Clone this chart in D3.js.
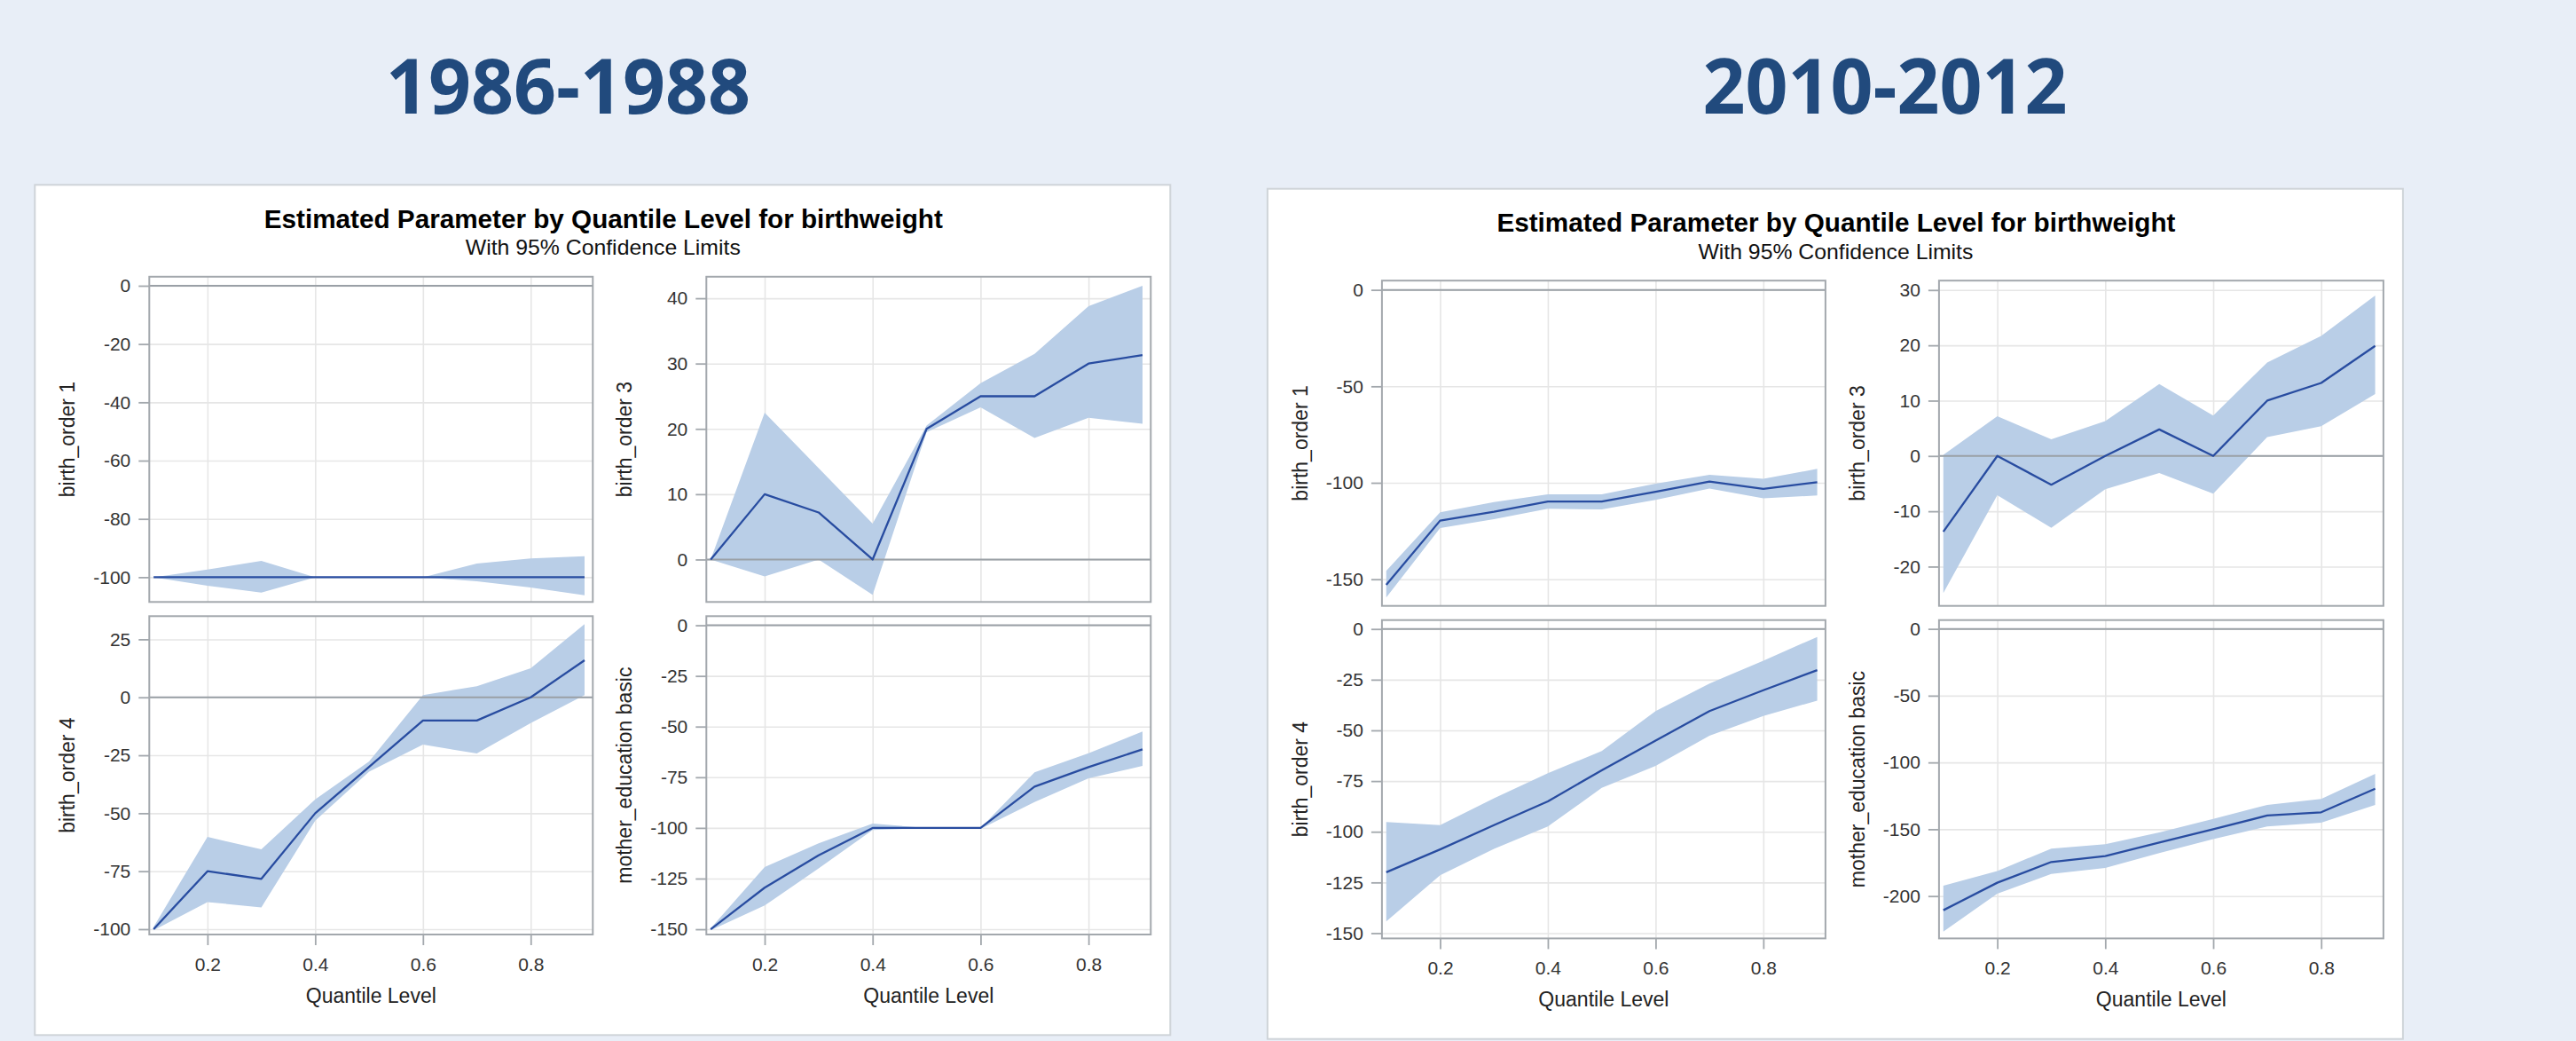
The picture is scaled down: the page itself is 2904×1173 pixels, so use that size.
<!DOCTYPE html>
<html>
<head>
<meta charset="utf-8">
<script src="https://cdn.jsdelivr.net/npm/d3@7"></script>
<style>
  html, body { margin: 0; padding: 0; background: #e8eef7; }
  svg { display: block; }
</style>
</head>
<body>
<script>
// ---------------- DATA ----------------
const quantiles = [0.1, 0.2, 0.3, 0.4, 0.5, 0.6, 0.7, 0.8, 0.9];
const xTicks = [0.2, 0.4, 0.6, 0.8];
const xRange = [0.092, 0.9153];
const periods = ["1986-1988", "2010-2012"];
const variableLabels = ["birth_order 1", "birth_order 3", "birth_order 4", "mother_education basic"];
const chartTitle = "Estimated Parameter by Quantile Level for birthweight";
const chartSubtitle = "With 95% Confidence Limits";
const xAxisLabel = "Quantile Level";

// 1986-1988
const est_bo1_8688 = [-100, -100, -100, -100, -100, -100, -100, -100, -100];
const ucl_bo1_8688 = [-100, -97.4, -94.4, -100, -100, -100, -95.3, -93.6, -92.8];
const lcl_bo1_8688 = [-100, -102.9, -105.3, -100, -100, -100, -101.4, -103.5, -106.2];
const yTicks_bo1_8688 = [-100, -80, -60, -40, -20, 0];
const yRange_bo1_8688 = [-108.5, 3.1];

const est_bo3_8688 = [0, 10, 7.2, 0, 20, 25, 25, 30, 31.3];
const ucl_bo3_8688 = [0, 22.5, 14, 5.5, 20.5, 27, 31.5, 38.8, 41.9];
const lcl_bo3_8688 = [0, -2.6, 0, -5.4, 19.5, 23.3, 18.6, 21.7, 20.8];
const yTicks_bo3_8688 = [0, 10, 20, 30, 40];
const yRange_bo3_8688 = [-6.5, 43.3];

const est_bo4_8688 = [-100, -75, -78.3, -50, -30, -10, -10, 0, 16];
const ucl_bo4_8688 = [-99, -60.2, -65.6, -44, -27.7, 1, 4.8, 12.5, 31.6];
const lcl_bo4_8688 = [-100.5, -88.3, -90.6, -53.2, -32.1, -20.4, -24.2, -11.1, 1];
const yTicks_bo4_8688 = [-100, -75, -50, -25, 0, 25];
const yRange_bo4_8688 = [-102.3, 35];

const est_meb_8688 = [-150, -129.5, -113.5, -100, -100, -100, -79.6, -70, -61.2];
const ucl_meb_8688 = [-149.5, -119.3, -107.6, -97.9, -100, -100, -72.6, -63.1, -52.4];
const lcl_meb_8688 = [-150.5, -138.3, -120, -101, -100, -100.5, -87.2, -75.5, -69.4];
const yTicks_meb_8688 = [-150, -125, -100, -75, -50, -25, 0];
const yRange_meb_8688 = [-152.6, 4.5];

// 2010-2012
const est_bo1_1012 = [-152.9, -119.6, -115, -109.7, -109.7, -104.6, -99.4, -103.2, -99.7];
const ucl_bo1_1012 = [-145.7, -115.3, -110, -106, -106, -100.5, -95.9, -97.9, -92.8];
const lcl_bo1_1012 = [-159.5, -123.5, -118.9, -113.5, -113.8, -108.9, -103, -108, -106.6];
const yTicks_bo1_1012 = [-150, -100, -50, 0];
const yRange_bo1_1012 = [-163.8, 4.8];

const est_bo3_1012 = [-13.7, 0, -5.2, 0, 4.8, 0, 10, 13.2, 19.9];
const ucl_bo3_1012 = [0.2, 7.2, 3.0, 6.3, 13.0, 7.3, 16.9, 21.7, 29.0];
const lcl_bo3_1012 = [-24.8, -7.1, -13.0, -6.0, -3.1, -6.8, 3.4, 5.4, 11.2];
const yTicks_bo3_1012 = [-20, -10, 0, 10, 20, 30];
const yRange_bo3_1012 = [-27.1, 31.7];

const est_bo4_1012 = [-120, -108.7, -96.7, -85, -69.7, -55, -40.5, -30.2, -20.3];
const ucl_bo4_1012 = [-95.2, -96.7, -83.5, -71.1, -60.2, -40.5, -26.9, -15.6, -3.9];
const lcl_bo4_1012 = [-144.2, -121.5, -108.4, -97.4, -78.4, -67.5, -52.6, -42.9, -35.3];
const yTicks_bo4_1012 = [-150, -125, -100, -75, -50, -25, 0];
const yRange_bo4_1012 = [-152.6, 4.4];

const est_meb_1012 = [-210.6, -190, -174.5, -170, -160, -150, -139.7, -137.3, -119.7];
const ucl_meb_1012 = [-192.2, -181.2, -164.5, -161.2, -152.3, -142.3, -131.7, -127.3, -108.6];
const lcl_meb_1012 = [-226.6, -198.2, -183.4, -179, -167.8, -157.4, -147.9, -145, -131.7];
const yTicks_meb_1012 = [-200, -150, -100, -50, 0];
const yRange_meb_1012 = [-231.7, 6.6];

// ---------------- ASSEMBLY ----------------
const panelsData = [
  [
    { est: est_bo1_8688, lcl: lcl_bo1_8688, ucl: ucl_bo1_8688, ticks: yTicks_bo1_8688, range: yRange_bo1_8688 },
    { est: est_bo3_8688, lcl: lcl_bo3_8688, ucl: ucl_bo3_8688, ticks: yTicks_bo3_8688, range: yRange_bo3_8688 },
    { est: est_bo4_8688, lcl: lcl_bo4_8688, ucl: ucl_bo4_8688, ticks: yTicks_bo4_8688, range: yRange_bo4_8688 },
    { est: est_meb_8688, lcl: lcl_meb_8688, ucl: ucl_meb_8688, ticks: yTicks_meb_8688, range: yRange_meb_8688 }
  ],
  [
    { est: est_bo1_1012, lcl: lcl_bo1_1012, ucl: ucl_bo1_1012, ticks: yTicks_bo1_1012, range: yRange_bo1_1012 },
    { est: est_bo3_1012, lcl: lcl_bo3_1012, ucl: ucl_bo3_1012, ticks: yTicks_bo3_1012, range: yRange_bo3_1012 },
    { est: est_bo4_1012, lcl: lcl_bo4_1012, ucl: ucl_bo4_1012, ticks: yTicks_bo4_1012, range: yRange_bo4_1012 },
    { est: est_meb_1012, lcl: lcl_meb_1012, ucl: ucl_meb_1012, ticks: yTicks_meb_1012, range: yRange_meb_1012 }
  ]
];

// ---------------- LAYOUT ----------------
const W = 2904, H = 1173;
const FONT = "'Liberation Sans', Arial, Helvetica, sans-serif";
const panelPos = [[39.3, 208.3], [1428.9, 212.7]];
const headerX = [640.5, 2125];
const panelW = 1280, panelH = 958;
const cols = [[129, 629], [757, 1258]];
const rows = [[103.5, 470], [486, 844.7]];

const svg = d3.select("body").append("svg")
  .attr("width", W).attr("height", H)
  .attr("viewBox", `0 0 ${W} ${H}`);

svg.append("rect").attr("width", W).attr("height", H).attr("fill", "#e8eef7");

// Headers
periods.forEach((p, i) => {
  svg.append("text")
    .attr("x", headerX[i]).attr("y", 127.5)
    .attr("text-anchor", "middle")
    .attr("font-family", "'Open Sans', Lato, sans-serif")
    .attr("font-weight", 700)
    .attr("font-size", 86)
    .attr("textLength", 411)
    .attr("lengthAdjust", "spacingAndGlyphs")
    .attr("fill", "#214a7d")
    .text(p);
});

const bandColor = "#b9cee7";
const lineColor = "#284ca0";
const frameColor = "#a3a8ad";
const gridColor = "#e6e6e6";

panelsData.forEach((plots, pi) => {
  const [px, py] = panelPos[pi];
  const g = svg.append("g").attr("transform", `translate(${px},${py})`);

  g.append("rect")
    .attr("x", 0).attr("y", 0).attr("width", panelW).attr("height", panelH)
    .attr("fill", "#ffffff").attr("stroke", "#cfd4d9").attr("stroke-width", 2);

  g.append("text")
    .attr("x", 641).attr("y", 48.5)
    .attr("text-anchor", "middle")
    .attr("font-family", FONT).attr("font-weight", 700).attr("font-size", 29)
    .attr("textLength", 765).attr("lengthAdjust", "spacingAndGlyphs")
    .attr("fill", "#000")
    .text(chartTitle);

  g.append("text")
    .attr("x", 640.5).attr("y", 79)
    .attr("text-anchor", "middle")
    .attr("font-family", FONT).attr("font-size", 24)
    .attr("textLength", 310).attr("lengthAdjust", "spacingAndGlyphs")
    .attr("fill", "#111")
    .text(chartSubtitle);

  plots.forEach((pd, k) => {
    const ci = k % 2, ri = Math.floor(k / 2);
    const [x0, x1] = cols[ci];
    const [y0, y1] = rows[ri];
    const x = d3.scaleLinear().domain(xRange).range([x0, x1]);
    const y = d3.scaleLinear().domain(pd.range).range([y1, y0]);
    const pg = g.append("g");

    // gridlines
    pg.append("g")
      .attr("transform", `translate(${x0},0)`)
      .call(d3.axisLeft(y).tickValues(pd.ticks).tickSize(-(x1 - x0)).tickFormat(""))
      .call(s => s.select(".domain").remove())
      .call(s => s.selectAll("line").attr("stroke", gridColor).attr("stroke-width", 1.6));
    pg.append("g")
      .attr("transform", `translate(0,${y1})`)
      .call(d3.axisBottom(x).tickValues(xTicks).tickSize(-(y1 - y0)).tickFormat(""))
      .call(s => s.select(".domain").remove())
      .call(s => s.selectAll("line").attr("stroke", gridColor).attr("stroke-width", 1.6));

    const rowsData = quantiles.map((q, i) => ({ q, e: pd.est[i], lo: pd.lcl[i], hi: pd.ucl[i] }));

    // confidence band
    pg.append("path")
      .datum(rowsData)
      .attr("fill", bandColor)
      .attr("d", d3.area().x(d => x(d.q)).y0(d => y(d.lo)).y1(d => y(d.hi)));

    // zero reference line
    pg.append("line")
      .attr("x1", x0).attr("x2", x1)
      .attr("y1", y(0)).attr("y2", y(0))
      .attr("stroke", "#9aa0a6").attr("stroke-width", 2);

    // estimate line
    pg.append("path")
      .datum(rowsData)
      .attr("fill", "none")
      .attr("stroke", lineColor)
      .attr("stroke-width", 2.3)
      .attr("stroke-linejoin", "round")
      .attr("d", d3.line().x(d => x(d.q)).y(d => y(d.e)));

    // frame
    pg.append("rect")
      .attr("x", x0).attr("y", y0).attr("width", x1 - x0).attr("height", y1 - y0)
      .attr("fill", "none").attr("stroke", frameColor).attr("stroke-width", 2);

    // y axis
    pg.append("g")
      .attr("transform", `translate(${x0},0)`)
      .call(d3.axisLeft(y).tickValues(pd.ticks).tickSize(12).tickSizeOuter(0).tickPadding(9)
        .tickFormat(d => String(d)))
      .call(s => s.select(".domain").remove())
      .call(s => s.selectAll("line").attr("stroke", frameColor).attr("stroke-width", 1.8))
      .call(s => s.selectAll("text").attr("font-family", FONT).attr("font-size", 21).attr("fill", "#333"));

    // y label
    pg.append("text")
      .attr("transform", `translate(${x0 - 84},${(y0 + y1) / 2}) rotate(-90)`)
      .attr("text-anchor", "middle")
      .attr("font-family", FONT).attr("font-size", 23).attr("fill", "#222")
      .text(variableLabels[k]);

    if (ri === 1) {
      pg.append("g")
        .attr("transform", `translate(0,${y1})`)
        .call(d3.axisBottom(x).tickValues(xTicks).tickSize(12).tickSizeOuter(0).tickPadding(14)
          .tickFormat(d => String(d)))
        .call(s => s.select(".domain").remove())
        .call(s => s.selectAll("line").attr("stroke", frameColor).attr("stroke-width", 1.8))
        .call(s => s.selectAll("text").attr("font-family", FONT).attr("font-size", 21).attr("fill", "#333"));

      pg.append("text")
        .attr("x", (x0 + x1) / 2).attr("y", 921.5)
        .attr("text-anchor", "middle")
        .attr("font-family", FONT).attr("font-size", 23).attr("fill", "#222")
        .text(xAxisLabel);
    }
  });
});
</script>
</body>
</html>
